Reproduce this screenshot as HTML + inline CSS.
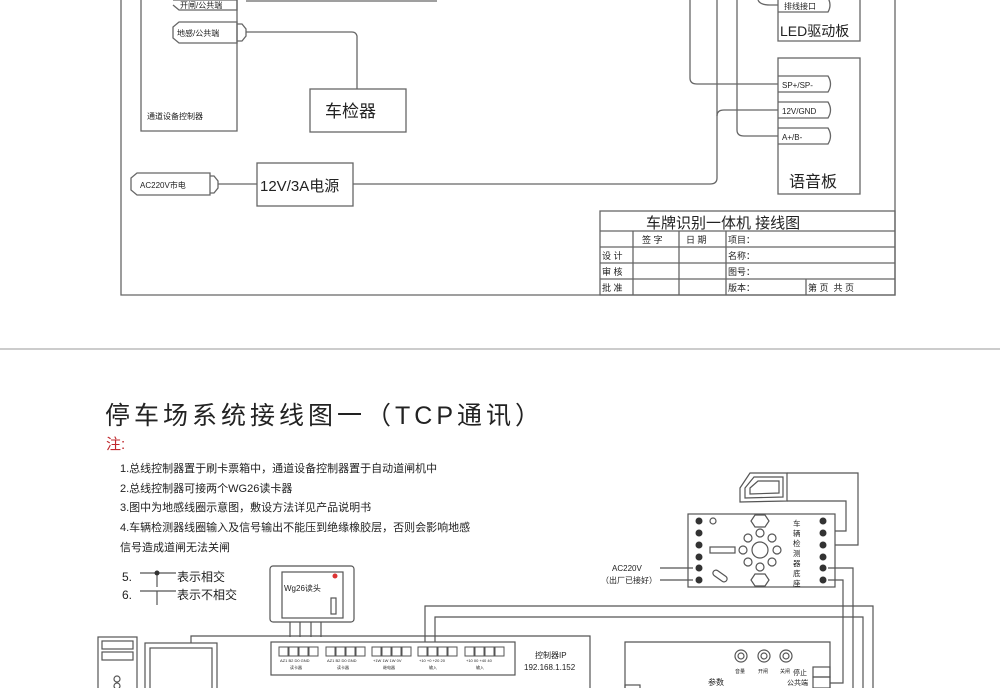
<!DOCTYPE html>
<html><head><meta charset="utf-8"><style>
html,body{margin:0;padding:0;background:#fff;}
svg{display:block;}
text{font-family:"Liberation Sans","Noto Sans CJK SC",sans-serif;fill:#222;}
</style></head><body>
<svg width="1000" height="688" viewBox="0 0 1000 688" xmlns="http://www.w3.org/2000/svg">
<g fill="none" stroke="#666" stroke-width="1.3">
<polyline points="121,0 121,295 895,295 895,0"/>
<polyline points="141,0 141,131 237,131 237,0"/>
<path d="M173,0 L237,0 L237,10 L179,10 L173,5"/>
<path d="M179,22 L237,22 L237,43 L179,43 L173,38 L173,27 Z"/>
<path d="M237,24 L242,24 L246,29 L246,36 L242,41 L237,41"/>
<line x1="246" y1="1" x2="437" y2="1"/>
<path d="M246,32 L352,32 Q356,32 357,36 L357,89"/>
<rect x="310" y="89" width="96" height="43"/>
<path d="M137,173 L210,173 L210,195 L137,195 L131,190 L131,178 Z"/>
<path d="M210,176 L214,176 L218,181 L218,188 L214,193 L210,193"/>
<line x1="218" y1="184" x2="257" y2="184"/>
<rect x="257" y="163" width="96" height="43"/>
<path d="M353,184 L710,184 Q717,184 717,178 L717,0"/>
<path d="M717,116 Q717,110 724,110 L778,110"/>
<path d="M690,0 L690,78 Q690,84 697,84 L778,84"/>
<path d="M737,0 L737,130 Q737,136 744,136 L778,136"/>
<path d="M758,0 Q760,5 770,5 L778,5"/>
<polyline points="778,0 778,41 860,41 860,0"/>
<path d="M778,-2 L828,-2 Q832,5 828,12 L778,12"/>
<rect x="778" y="58" width="82" height="136"/>
<path d="M778,76 L828,76 Q833,84 828,92 L778,92"/>
<path d="M778,102 L828,102 Q833,110 828,118 L778,118"/>
<path d="M778,128 L828,128 Q833,136 828,144 L778,144"/>
<rect x="600" y="211" width="295" height="84"/>
<line x1="600" y1="231" x2="895" y2="231"/>
<line x1="600" y1="247" x2="895" y2="247"/>
<line x1="600" y1="263" x2="895" y2="263"/>
<line x1="600" y1="279" x2="895" y2="279"/>
<line x1="633" y1="231" x2="633" y2="295"/>
<line x1="679" y1="231" x2="679" y2="295"/>
<line x1="726" y1="231" x2="726" y2="295"/>
<line x1="806" y1="279" x2="806" y2="295"/>
</g>
<g font-size="8">
<text x="180" y="8">开闸/公共端</text>
<text x="177" y="36">地感/公共端</text>
<text x="147" y="119">通道设备控制器</text>
<text x="140" y="188">AC220V市电</text>
<text x="784" y="9">排线接口</text>
<text x="782" y="88">SP+/SP-</text>
<text x="782" y="114">12V/GND</text>
<text x="782" y="140">A+/B-</text>
</g>
<text x="325" y="117" font-size="17">车检器</text>
<text x="260" y="191" font-size="15">12V/3A电源</text>
<text x="780" y="36" font-size="14">LED驱动板</text>
<text x="789" y="187" font-size="16">语音板</text>
<text x="646" y="228" font-size="15">车牌识别一体机 接线图</text>
<g font-size="9">
<text x="642" y="243">签 字</text><text x="686" y="243">日 期</text><text x="728" y="243">项目：</text>
<text x="602" y="259">设 计</text><text x="728" y="259">名称：</text>
<text x="602" y="275">审 核</text><text x="728" y="275">图号：</text>
<text x="602" y="291">批 准</text><text x="728" y="291">版本：</text>
<text x="808" y="291">第 页 &#160;共 页</text>
</g>
<line x1="0" y1="349" x2="1000" y2="349" stroke="#999" stroke-width="1"/>
<text x="105" y="424" font-size="25" textLength="435" fill="#222">停车场系统接线图一（TCP通讯）</text>
<text x="106" y="449" font-size="15" style="fill:#c0282d">注:</text>
<g font-size="11" fill="#333">
<text x="120" y="472">1.总线控制器置于刷卡票箱中，通道设备控制器置于自动道闸机中</text>
<text x="120" y="492">2.总线控制器可接两个WG26读卡器</text>
<text x="120" y="511">3.图中为地感线圈示意图，敷设方法详见产品说明书</text>
<text x="120" y="531">4.车辆检测器线圈输入及信号输出不能压到绝缘橡胶层，否则会影响地感</text>
<text x="120" y="551">信号造成道闸无法关闸</text>
<text x="122" y="581" font-size="12">5.</text>
<text x="122" y="599" font-size="12">6.</text>
<text x="177" y="581" font-size="12">表示相交</text>
<text x="177" y="599" font-size="12">表示不相交</text>
</g>
<g fill="none" stroke="#555" stroke-width="1.2">
<line x1="140" y1="573" x2="176" y2="573"/><line x1="157" y1="573" x2="157" y2="587"/>
<line x1="140" y1="591" x2="176" y2="591"/><line x1="157" y1="591" x2="157" y2="605"/>
<rect x="270" y="566" width="84" height="56" rx="3"/>
<rect x="282" y="572" width="61" height="46"/>
<rect x="331" y="598" width="5" height="16"/>
<line x1="290" y1="622" x2="290" y2="637"/><line x1="300" y1="622" x2="300" y2="637"/>
<line x1="311" y1="622" x2="311" y2="637"/><line x1="321" y1="622" x2="321" y2="637"/>
<polyline points="191,643 191,636 590,636 590,688"/>
<rect x="271" y="642" width="244" height="33"/>
<path d="M425,642 L425,606 L873,606 L873,688"/>
<path d="M435,642 L435,617 L863,617 L863,688"/>
<rect x="145" y="643" width="72" height="50"/>
<rect x="150" y="648" width="62" height="45"/>
<rect x="98" y="637" width="39" height="60"/>
<rect x="102" y="641" width="31" height="8"/>
<rect x="102" y="652" width="31" height="8"/>
<circle cx="117" cy="679" r="3"/><circle cx="117" cy="686" r="3"/>
<rect x="688" y="514" width="147" height="73"/>
<path d="M740,488 L750,473 L787,473 L787,501 L740,502 Z"/>
<path d="M745,488 L754,477 L783,477 L783,497 L745,498 Z"/>
<path d="M750,488 L758,481 L779,481 L779,493 L750,494 Z"/>
<path d="M787,473 L858,473 L858,545 L835,545"/>
<path d="M787,501 L846,501 L846,531 L835,531"/>
<line x1="660" y1="568" x2="693" y2="568"/><line x1="660" y1="580" x2="693" y2="580"/>
<path d="M828,568 L853,568 L853,688"/>
<path d="M828,580 L843,580 L843,683 L830,683"/>
<circle cx="760" cy="550" r="8"/>
<circle cx="760" cy="533" r="4"/><circle cx="760" cy="567" r="4"/>
<circle cx="743" cy="550" r="4"/><circle cx="777" cy="550" r="4"/>
<circle cx="748" cy="538" r="4"/><circle cx="772" cy="538" r="4"/>
<circle cx="748" cy="562" r="4"/><circle cx="772" cy="562" r="4"/>
<path d="M755,515 L765,515 L769,521 L765,527 L755,527 L751,521 Z"/>
<path d="M755,574 L765,574 L769,580 L765,586 L755,586 L751,580 Z"/>
<rect x="710" y="547" width="25" height="6"/>
<rect x="712" y="573" width="16" height="6" rx="3" transform="rotate(35 720 576)"/>
<circle cx="713" cy="521" r="3"/>
<polyline points="625,688 625,642 830,642 830,688"/>
<circle cx="741" cy="656" r="6"/><circle cx="741" cy="656" r="3"/>
<circle cx="764" cy="656" r="6"/><circle cx="764" cy="656" r="3"/>
<circle cx="786" cy="656" r="6"/><circle cx="786" cy="656" r="3"/>
<rect x="813" y="667" width="17" height="10"/><rect x="813" y="677" width="17" height="11"/>
<rect x="625" y="685" width="15" height="5"/>
</g>
<g fill="#333">
<circle cx="699" cy="521" r="3.5"/>
<circle cx="699" cy="533" r="3.5"/><circle cx="699" cy="545" r="3.5"/>
<circle cx="699" cy="557" r="3.5"/><circle cx="699" cy="568" r="3.5"/><circle cx="699" cy="580" r="3.5"/>
<circle cx="823" cy="521" r="3.5"/><circle cx="823" cy="533" r="3.5"/><circle cx="823" cy="545" r="3.5"/>
<circle cx="823" cy="557" r="3.5"/><circle cx="823" cy="568" r="3.5"/><circle cx="823" cy="580" r="3.5"/>
<circle cx="157" cy="573" r="2.5"/>
</g>
<circle cx="335" cy="576" r="2.5" fill="#d33"/>
<g fill="#fff" stroke="#555" stroke-width="1">
<rect x="279" y="647" width="9" height="9"/><rect x="289" y="647" width="9" height="9"/><rect x="299" y="647" width="9" height="9"/><rect x="309" y="647" width="9" height="9"/>
<rect x="326" y="647" width="9" height="9"/><rect x="336" y="647" width="9" height="9"/><rect x="346" y="647" width="9" height="9"/><rect x="356" y="647" width="9" height="9"/>
<rect x="372" y="647" width="9" height="9"/><rect x="382" y="647" width="9" height="9"/><rect x="392" y="647" width="9" height="9"/><rect x="402" y="647" width="9" height="9"/>
<rect x="418" y="647" width="9" height="9"/><rect x="428" y="647" width="9" height="9"/><rect x="438" y="647" width="9" height="9"/><rect x="448" y="647" width="9" height="9"/>
<rect x="465" y="647" width="9" height="9"/><rect x="475" y="647" width="9" height="9"/><rect x="485" y="647" width="9" height="9"/><rect x="495" y="647" width="9" height="9"/>
</g>
<g font-size="4" fill="#666">
<text x="280" y="662">AZ1 B2 D0 GND</text><text x="327" y="662">AZ1 B2 D0 GND</text>
<text x="373" y="662">+1W 1W 1W 0V</text><text x="419" y="662">+10 +0 +20 20</text><text x="466" y="662">+10 00 +40 40</text>
<text x="290" y="669">读卡器</text><text x="337" y="669">读卡器</text><text x="383" y="669">继电器</text><text x="429" y="669">输入</text><text x="476" y="669">输入</text>
</g>
<text x="284" y="591" font-size="8">Wg26读头</text>
<text x="535" y="658" font-size="8">控制器IP</text>
<text x="524" y="670" font-size="8">192.168.1.152</text>
<text x="612" y="571" font-size="8">AC220V</text>
<text x="601" y="583" font-size="8">（出厂已接好）</text>
<g font-size="7.5"><text x="793" y="526">车</text><text x="793" y="536">辆</text><text x="793" y="546">检</text><text x="793" y="556">测</text><text x="793" y="566">器</text><text x="793" y="576">底</text><text x="793" y="586">座</text></g>
<g font-size="5"><text x="735" y="673">音量</text><text x="758" y="673">开闸</text><text x="780" y="673">关闸</text></g>
<text x="708" y="685" font-size="8">参数</text>
<text x="793" y="675" font-size="7">停止</text>
<text x="787" y="685" font-size="7">公共端</text>
</svg>
</body></html>
